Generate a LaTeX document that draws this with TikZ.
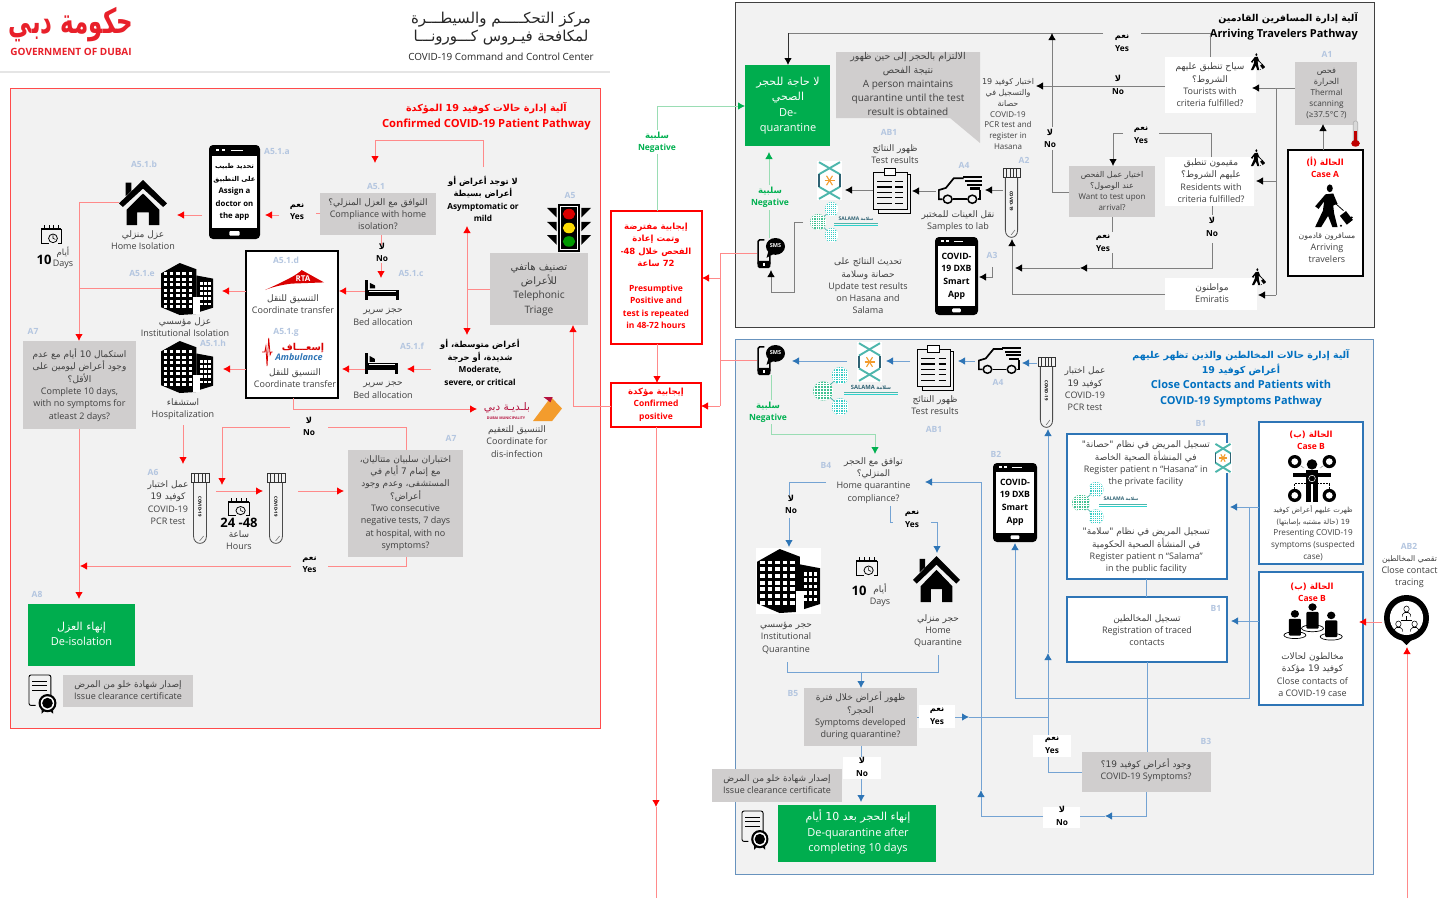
\documentclass[tikz,border=0pt]{standalone}
\usepackage{fontspec}
\usetikzlibrary{arrows.meta}
\setmainfont{Open Sans}
\TeXXeTstate=1
\newfontfamily\arabicfont[Script=Arabic,Scale=1.0]{DejaVu Sans}
\newfontfamily\arabicsmall[Script=Arabic,Scale=0.86]{DejaVu Sans}
\newcommand\arb[1]{{\arabicfont\beginR #1\endR}}
\newcommand\arbt[1]{{\arabicsmall\beginR #1\endR}}
\newcommand\ltr[1]{\beginL #1\endL{}}
\definecolor{panelbg}{HTML}{F2F2F2}
\definecolor{redborder}{HTML}{FF4B4B}
\definecolor{pinkline}{HTML}{FF8A8A}
\definecolor{pureRed}{HTML}{FF0000}
\definecolor{blueline}{HTML}{74A3D3}
\definecolor{bluehead}{HTML}{2E75B6}
\definecolor{blueborder}{HTML}{2E75B6}
\definecolor{greenline}{HTML}{9ADDB4}
\definecolor{greenhead}{HTML}{00B050}
\definecolor{greenbox}{HTML}{00AD4E}
\definecolor{grayline}{HTML}{7F7F7F}
\definecolor{grayfill}{HTML}{D0CECE}
\definecolor{labcol}{HTML}{B4C6E0}
\definecolor{txtgray}{HTML}{404040}
\definecolor{teal1}{HTML}{4DB6AC}
\definecolor{teal2}{HTML}{2F6273}
\definecolor{orng}{HTML}{F39C2D}
\definecolor{dubaired}{HTML}{E8202A}
\definecolor{dmred}{HTML}{B5123E}
\definecolor{titleblue}{HTML}{0070C0}
\newcounter{artn}
\newcommand\icon[6]{%
  \path (#3,#4) node[anchor=north west,inner sep=0pt,outer sep=0pt,minimum width={(#5-#3)*1pt},minimum height={(#6-#4)*1pt}] (#1) {};
  \pgfmathsetmacro\sxx{(#5-#3)/100}\pgfmathsetmacro\syy{(#6-#4)/100}
  \begin{scope}[shift={(#3,#4)},xscale=\sxx,yscale=\syy]#2\end{scope}}
\def\arthouse{\fill (0,52)--(50,0)--(100,52)--(92,60)--(50,19)--(8,60)--cycle;
  \fill (14,6)--(26,6)--(26,24)--(14,36)--cycle;
  \fill (16,66)--(50,30)--(84,66)--(84,100)--(62,100)--(62,72)--(38,72)--(38,100)--(16,100)--cycle;}
\def\artbldg{\fill (0,20)--(36,0)--(68,12)--(68,98)--(36,100)--(0,85)--cycle;
  \fill (68,24)--(100,30)--(100,86)--(68,96)--cycle;
  \foreach \i in {0,...,4}{\foreach \j in {0,...,6}{\fill[white] ({5+\i*12},{18+\j*10.5}) rectangle ++(7,6);}}
  \foreach \i in {0,1,2}{\foreach \j in {0,...,4}{\fill[white] ({75+\i*8},{36+\j*10}) rectangle ++(5,5.5);}}
  \fill[white] (62,65) rectangle (75,98);}
\def\artbed{\fill (0,0) rectangle (9,100);\fill (14,14)--(30,28)--(30,42)--(14,42)--cycle;
  \fill (9,48) rectangle (100,70);\fill[white] (12,54) rectangle (97,58);\fill (91,48) rectangle (100,100);\fill (9,72) rectangle (91,80);}
\def\artphone{\fill[rounded corners=4pt] (0,0) rectangle (100,100);\fill[white] (6,12) rectangle (94,88);
  \fill[white,rounded corners=1pt] (40,91.5) rectangle (60,96.5);\fill[white] (14,4) rectangle (20,6.5);\fill[white] (26,4) rectangle (32,6.5);\fill[white] (44,5) rectangle (66,6.5);}
\def\artphonesms{\draw[line width=1.6pt,rounded corners=1.5pt] (26,6)--(4,6)--(4,90)--(46,90)--(46,60);
  \fill[rounded corners=1.5pt] (2,76) rectangle (48,100);\fill[white] (22,83) rectangle (30,92);
  \fill (66,28) ellipse (34 and 28);\fill (42,40)--(34,66)--(62,52)--cycle;}
\def\arttube{\stepcounter{artn}\draw[line width=.7pt,black!80] (0,0) rectangle (100,14);
  \foreach \i in {20,40,60,80}{\draw[line width=.5pt,black!80] (\i,0)--(\i,14);}
  \draw[line width=.8pt,black!70] (14,14)--(14,90) .. controls (14,104) and (86,104) .. (86,90)--(86,14);
  \draw[line width=.5pt,black!60] (48,97)--(70,90);
  \node[font=\fontsize{4.3}{5}\selectfont\bfseries,rotate=-90,inner sep=0pt] (artn\theartn) at (50,48) {COVID-19};}
\def\artvan{\draw[line width=1.7pt] (10,86)--(2,86)--(2,52)--(18,44)--(36,8)--(58,8);
  \draw[line width=1.7pt] (34,86)--(66,86);\draw[line width=1.7pt] (90,86)--(96,86)--(96,50);
  \draw[line width=1.5pt] (22,86) ellipse (10 and 15);\draw[line width=1.5pt] (78,86) ellipse (10 and 15);
  \fill (56,0) rectangle (100,8);\fill (62,14) rectangle (100,22);\fill (66,28) rectangle (100,36);\fill (72,42) rectangle (96,50);}
\def\artclip{\draw[line width=.9pt] (92,14)--(100,14)--(100,100)--(14,100)--(14,92);
  \draw[line width=.9pt] (0,10) rectangle (92,92);\draw[line width=.9pt,fill=white] (30,0) rectangle (62,16);
  \foreach \yy in {30,42,54,66,78}{\draw[line width=1.2pt] (12,\yy)--(50,\yy);\draw[line width=1.2pt] (60,\yy)--(80,\yy);}}
\def\arthasana{\fill[white] (0,0) rectangle (100,100);
  \draw[teal1,line width=1.9pt] (8,3)--(92,34);\draw[teal1,line width=1.9pt] (92,3)--(8,34);
  \draw[teal1,line width=1.9pt] (8,97)--(92,66);\draw[teal1,line width=1.9pt] (92,97)--(8,66);
  \draw[teal2,line width=1.7pt] (8,34)--(8,66);\draw[teal2,line width=1.7pt] (92,34)--(92,66);
  \draw[orng,line width=1.1pt] (30,50)--(70,50);\draw[orng,line width=1.1pt] (38,38)--(62,62);\draw[orng,line width=1.1pt] (62,38)--(38,62);}
\newcommand\dotc[5]{\begin{scope}\clip (#1,#2) ellipse (#3 and #4);\fill[#5] (#1-#3,#2-#4) rectangle (#1+#3,#2+#4);
  \foreach \q in {-3,...,3}{\draw[white,line width=.25pt] (#1+\q*#3/3.5,#2-#4)--(#1+\q*#3/3.5,#2+#4);\draw[white,line width=.25pt] (#1-#3,#2+\q*#4/3.5)--(#1+#3,#2+\q*#4/3.5);}\end{scope}}
\def\artsalama{\draw[teal1,line width=.8pt] (32,18)--(12,50)--(32,83);
  \dotc{12}{50}{12}{20}{teal1!85!green}\dotc{32}{18}{10}{18}{teal1!70!cyan}\dotc{32}{83}{10}{18}{teal1!70!cyan}
  \fill[teal1] (36,52) rectangle (100,55);\fill[teal1!60!cyan] (36,57) rectangle (100,59);}
\def\artlight{\fill (25,0) rectangle (75,100);\fill[white] (30,4) rectangle (70,96);\fill (32,6) rectangle (68,94);
  \fill[red!85!black] (50,21) ellipse (14 and 11);\fill[yellow!80!orange] (50,50) ellipse (14 and 11);\fill[green!60!black] (50,78) ellipse (14 and 11);
  \foreach \yy in {8,37,65}{\fill (0,\yy)--(22,\yy)--(22,\yy+20)--cycle;\fill (100,\yy)--(78,\yy)--(78,\yy+20)--cycle;}}
\def\artwalker{\fill (46,10) ellipse (7 and 9);
  \fill (36,24)--(54,22)--(64,46)--(54,50)--(56,68)--(64,100)--(52,100)--(42,74)--(26,100)--(12,100)--(30,62)--(33,40)--(20,58)--(12,52)--cycle;
  \draw[line width=.8pt] (60,46)--(78,62);\fill[rotate around={38:(84,78)}] (75,66) rectangle (93,92);
  \fill (72,97) ellipse (2.5 and 2.5);\fill (97,78) ellipse (2.5 and 2.5);}
\def\artcalendar{\draw[line width=.9pt] (0,22)--(0,100)--(40,100);\draw[line width=.9pt] (100,22)--(100,100)--(85,100);
  \fill (0,15) rectangle (100,30);\foreach \i in {15,38,61,84}{\fill (\i,0) rectangle (\i+6,18);}
  \draw[line width=.8pt] (60,74) ellipse (22 and 24);\draw[line width=.6pt] (60,58)--(60,74)--(72,80);}
\def\artcert{\draw[line width=.9pt,rounded corners=2pt] (78,62)--(78,0)--(0,0)--(0,80)--(24,80);
  \draw[line width=.9pt] (12,18)--(66,18);\draw[line width=1.4pt] (12,28)--(66,28);\draw[line width=.9pt] (12,40)--(66,40);
  \fill (66,74) ellipse (32 and 24);\fill[white] (66,74) ellipse (24 and 18);\fill (66,74) ellipse (19 and 14);
  \fill (45,92)--(55,95)--(45,102)--cycle;\fill (86,92)--(76,95)--(86,102)--cycle;}
\def\artthermo{\draw[gray!60,line width=.6pt,fill=gray!30,rounded corners=2pt] (25,0) rectangle (75,80);
  \fill[red!75!black] (35,40) rectangle (65,85);\fill[red!75!black] (50,86) ellipse (48 and 13);}
\def\artcaseb{\draw[densely dotted,line width=.5pt] (14,15)--(34,28);\draw[densely dotted,line width=.5pt] (86,15)--(66,28);\draw[densely dotted,line width=.5pt] (14,85)--(14,60)--(40,60);\draw[densely dotted,line width=.5pt] (86,85)--(86,60)--(60,60);
  \fill (14,14) ellipse (14 and 14);\fill (86,14) ellipse (14 and 14);\fill (14,86) ellipse (14 and 14);\fill (86,86) ellipse (14 and 14);
  \fill[white] (14,14) ellipse (7 and 7);\fill[white] (86,14) ellipse (7 and 7);\fill[white] (14,86) ellipse (7 and 7);\fill[white] (86,86) ellipse (7 and 7);
  \fill (50,20) ellipse (11 and 11);\fill (10,38) rectangle (90,46);\fill (38,32) rectangle (62,62);\fill (38,62) rectangle (48,100);\fill (52,62) rectangle (62,100);
  \draw[white,line width=.5pt] (50,50) ellipse (7 and 7);}
\newcommand\oneperson[2]{\draw[line width=.7pt] (#1,#2+56) ellipse (20 and 9);\fill (#1,#2) ellipse (7.5 and 10);\fill[rounded corners=1pt] (#1-11,#2+13) rectangle (#1+11,#2+57);}
\def\artpeople{\oneperson{50}{8}\oneperson{18}{26}\oneperson{84}{30}}
\def\artpin{\fill (50,46) ellipse (50 and 46);\fill (36,88)--(64,88)--(50,100)--cycle;\fill[white] (50,46) ellipse (37 and 34);
  \foreach \a/\b in {50/28,32/58,68/58}{\draw[line width=.55pt] (\a,\b) ellipse (6 and 6);\draw[line width=.55pt] (\a-9,\b+15)--(\a-9,\b+11)--(\a-4,\b+7)--(\a+4,\b+7)--(\a+9,\b+11)--(\a+9,\b+15);}
  \draw[line width=.45pt] (50,42)--(50,50)--(38,50);\draw[line width=.45pt] (50,50)--(62,50);}
\tikzset{
  panelred/.style={draw=redborder,fill=panelbg,line width=1pt},
  panelblack/.style={draw=black!75,fill=panelbg,line width=1.2pt},
  panelblue/.style={draw=blueline!90!black,fill=panelbg,line width=1.1pt},
  txt/.style={align=center,inner sep=0pt,text=txtgray,font=\fontsize{9}{12.3}\selectfont},
  small/.style={txt,font=\fontsize{8}{10.8}\selectfont},
  yn/.style={align=center,inner sep=0pt,text=black,font=\fontsize{8.3}{12.5}\selectfont\bfseries},
  ynwhite/.style={yn,fill=white},
  lab/.style={inner sep=0pt,text=labcol,font=\fontsize{8.5}{10}\selectfont\bfseries},
  boxgray/.style={fill=grayfill,inner sep=0pt,outer sep=0pt},
  boxwhite/.style={fill=white,inner sep=0pt,outer sep=0pt},
  boxgreen/.style={fill=greenbox,inner sep=0pt,outer sep=0pt},
  blackframe/.style={fill=white,draw=black,line width=1.1pt,inner sep=0pt,outer sep=0pt},
  blueframe/.style={fill=white,draw=blueborder,line width=1.1pt,inner sep=0pt,outer sep=0pt},
  redframe/.style={fill=white,draw=red,line width=1.1pt,inner sep=0pt,outer sep=0pt},
  redline/.style={draw=pinkline,line width=.85pt},
  redarrow/.style={redline,-{Latex[length=7pt,width=7.5pt,color=pureRed]}},
  blueln/.style={draw=blueline,line width=.85pt},
  bluearrow/.style={blueln,-{Latex[length=7pt,width=7.5pt,color=bluehead]}},
  greenln/.style={draw=greenline,line width=.85pt},
  greenarrow/.style={greenln,-{Latex[length=7pt,width=7.5pt,color=greenhead]}},
  grayln/.style={draw=grayline,line width=.85pt},
  grayarrow/.style={grayln,-{Latex[length=7pt,width=7.5pt,color=black]}},
  whitetxt/.style={align=center,inner sep=0pt,text=white,font=\fontsize{11}{15.5}\selectfont},
  redbold/.style={align=center,inner sep=0pt,text=pureRed,font=\fontsize{8.5}{12.4}\selectfont\bfseries},
}
\newcommand\boxat[6]{\path (#3,#4) node[#2,anchor=north west,minimum width={(#5-#3)*1pt},minimum height={(#6-#4)*1pt}] (#1) {};}
\begin{document}
\begin{tikzpicture}[x=1pt,y=-1pt]
\useasboundingbox (0,0) rectangle (1444,898);
\fill[white] (0,0) rectangle (1444,898);
% header
\draw[black!10,line width=1.2pt] (0,72)--(610,72);
\node[transform shape,yscale=1.5,inner sep=0pt,text=dubaired,font=\fontsize{23}{30}\selectfont\bfseries] (logoar) at (71,25) {\arb{حكومة دبي}};
\node[inner sep=0pt,text=dubaired,font=\fontsize{10}{11}\selectfont\bfseries] (logoen) at (71,52) {GOVERNMENT OF DUBAI};
\node[inner sep=0pt,text=black!85,font=\fontsize{15}{16}\selectfont] (ccar1) at (501,20) {\arb{مركز التحكـــــم والسيطـــرة}};
\node[inner sep=0pt,text=black!85,font=\fontsize{15}{16}\selectfont] (ccar2) at (501,38) {\arb{لمكافحة فيـروس كـــورونـــا}};
\node[inner sep=0pt,text=black!85,font=\fontsize{9.9}{11}\selectfont] (ccen) at (501,57) {COVID-19 Command and Control Center};
% panels
\boxat{panelR}{panelred}{10}{88}{600}{728}
\boxat{panelK}{panelblack}{735}{2}{1374}{327}
\boxat{panelB}{panelblue}{735}{339}{1373}{874}
% ---------- RED PANEL ----------
\node[anchor=east,align=right,inner sep=0pt,text=pureRed,font=\fontsize{11.2}{16}\selectfont\bfseries] (tR) at (591,116) {\arbt{آلية إدارة حالات كوفيد \ltr{19} المؤكدة}\hspace*{24pt}\\Confirmed COVID-19 Patient Pathway};
\node[lab] (lA51a) at (277,152) {A5.1.a};
\icon{phA}{\artphone}{209}{145}{260}{239}
\node[align=center,inner sep=0pt,font=\fontsize{7.8}{12.6}\selectfont\bfseries] (phAt) at (234.5,192) {\arbt{تحديد طبيب}\\\arbt{على التطبيق}\\Assign a\\doctor on\\the app};
\node[lab] (lA51b) at (144,164) {A5.1.b};
\icon{houseA}{\arthouse}{119}{180}{167}{225}
\node[txt] (houseAt) at (143,240) {\arb{عزل منزلي}\\Home Isolation};
\icon{cal1}{\artcalendar}{41}{225}{61}{243}
\node[txt,font=\fontsize{8.5}{10}\selectfont] (d1a) at (63,252) {\arb{أيام}};
\node[inner sep=0pt,font=\fontsize{13}{14}\selectfont\bfseries] (d1b) at (44,260) {10};
\node[txt] (d1c) at (63,264) {Days};
\node[lab] (lA51e) at (142,274) {A5.1.e};
\icon{bld1}{\artbldg}{161}{263}{213}{315}
\node[txt] (bld1t) at (185,327) {\arb{عزل مؤسسي}\\Institutional Isolation};
\node[lab] (lA7a) at (33,331) {A7};
\boxat{A7a}{boxgray}{23}{341}{136}{429}
\node[txt] (A7at) at (79.5,385) {\arb{استكمال \ltr{10} أيام مع عدم}\\\arb{وجود أعراض ليومين على}\\\arb{الأقل؟}\\Complete 10 days,\\with no symptoms for\\atleast 2 days?};
\icon{bld2}{\artbldg}{161}{341}{213}{393}
\node[lab] (lA51h) at (213,343) {A5.1.h};
\node[txt] (bld2t) at (183,409) {\arb{استشفاء}\\Hospitalization};
\node[lab] (lA51) at (376,187) {A5.1};
\boxat{A51}{boxgray}{320}{193}{436}{235}
\node[txt] (A51t) at (378,214) {\arb{التوافق مع العزل المنزلي؟}\\Compliance with home\\isolation?};
\node[yn] (ynA1) at (297,211.5) {\arb{نعم}\\Yes};
\node[yn] (ynA2) at (382,252.5) {\arb{لا}\\No};
\node[yn] (asym) at (483,199) {\arb{لا توجد أعراض أو}\\\arb{أعراض بسيطة}\\Asymptomatic or\\mild};
\node[lab] (lA5) at (570,195) {A5};
\icon{tl}{\artlight}{547}{204}{591}{252}
\boxat{triage}{boxgray}{490}{253}{588}{325}
\node[txt,font=\fontsize{10.2}{14.4}\selectfont] (triaget) at (539,289) {\arb{تصنيف هاتفي}\\\arb{للأعراض}\\Telephonic\\Triage};
\icon{bed1}{\artbed}{365}{280}{399}{300}
\node[lab] (lA51c) at (411,274) {A5.1.c};
\node[txt] (bed1t) at (383,317) {\arb{حجز سرير}\\Bed allocation};
\boxat{wbox}{blackframe}{246}{251}{338}{398}
\node[lab] (lA51d) at (286,260) {A5.1.d};
\icon{rta}{\fill[red!85!black] (0,100) .. controls (30,60) and (55,25) .. (62,0)--(100,62)--(45,68) .. controls (25,75) and (10,88) .. (0,100)--cycle;}{265}{270}{324}{290}
\node[inner sep=0pt,text=white,font=\fontsize{8}{9}\selectfont\bfseries] (rtat) at (303,279) {RTA};
\node[txt] (rtal) at (293,304) {\arb{التنسيق للنقل}\\Coordinate transfer};
\node[lab] (lA51g) at (286,332) {A5.1.g};
\icon{amb}{\draw[red!85!black,line width=.8pt] (0,50)--(10,50)--(14,30)--(18,100)--(24,0)--(29,60)--(33,50)--(38,50);}{262}{338}{290}{366}
\node[inner sep=0pt,text=red!85!black,font=\fontsize{9.5}{11}\selectfont\bfseries] (ambar) at (303,348) {\arb{إسعـــاف}};
\node[inner sep=0pt,text=bluehead,font=\fontsize{9}{10}\selectfont\bfseries\itshape] (amben) at (299,357) {Ambulance};
\node[txt] (ambl) at (295,378) {\arb{التنسيق للنقل}\\Coordinate transfer};
\icon{bed2}{\artbed}{365}{353}{398}{374}
\node[lab] (lA51f) at (412,346) {A5.1.f};
\node[txt] (bed2t) at (383,390) {\arb{حجز سرير}\\Bed allocation};
\node[yn] (mod) at (480,363) {\arb{أعراض متوسطة، أو}\\\arb{شديدة، أو حرجة}\\Moderate,\\severe, or critical};
\node[inner sep=0pt,text=dmred,font=\fontsize{10.5}{11}\selectfont] (dm1) at (507,408) {\arb{بلـديـة دبي}};
\node[inner sep=0pt,text=dmred,font=\fontsize{3.6}{4}\selectfont\bfseries] (dm2) at (506,418) {DUBAI MUNICIPALITY};
\icon{dmlogo}{\fill[orng] (0,100)--(62,0)--(100,48)--(66,100)--cycle;\fill[dmred] (36,0)--(68,0)--(60,22)--cycle;}{533}{397}{562}{421}
\node[txt] (dmt) at (517,441.5) {\arb{التنسيق للتعقيم}\\Coordinate for\\dis-infection};
\node[yn] (ynA3) at (309,426.5) {\arb{لا}\\No};
\node[lab] (lA6) at (153,472) {A6};
\node[txt] (A6t) at (168,502.5) {\arb{عمل اختبار}\\\arb{كوفيد \ltr{19}}\\COVID-19\\PCR test};
\icon{tube1}{\arttube}{191}{473}{209}{543}
\icon{tube2}{\arttube}{267}{473}{285}{543}
\icon{cal2}{\artcalendar}{228}{498}{249}{515}
\node[inner sep=0pt,font=\fontsize{13}{14}\selectfont\bfseries] (hrs1) at (239,523) {24 -48};
\node[txt] (hrs2) at (239,540) {\arb{ساعة}\\Hours};
\node[lab] (lA7b) at (451,438) {A7};
\boxat{A7b}{boxgray}{348}{450}{463}{557}
\node[txt] (A7bt) at (405.5,503) {\arb{اختباران سلبيان متتاليان،}\\\arb{مع إتمام \ltr{7} أيام في}\\\arb{المستشفى، وعدم وجود}\\\arb{أعراض؟}\\Two consecutive\\negative tests,  7 days\\at hospital, with no\\symptoms?};
\node[yn] (ynA4) at (309.5,564.5) {\arb{نعم}\\Yes};
\node[lab] (lA8) at (37,594) {A8};
\boxat{A8}{boxgreen}{28}{604}{135}{666}
\node[whitetxt] (A8t) at (81.5,634) {\arb{إنهاء العزل}\\De-isolation};
\icon{cert1}{\artcert}{29}{675}{57}{713}
\boxat{cert1b}{boxgray}{63}{675}{193}{707}
\node[txt] (cert1t) at (128,690) {\arb{إصدار شهادة خلو من المرض}\\Issue clearance certificate};
% red panel connectors
\coordinate (pa1) at (483,167);\coordinate (pa2) at (483,140);\coordinate (pa3) at (375,140);\coordinate (pa4) at (375,163);
\draw[redarrow] (pa1)--(pa2)--(pa3)--(pa4);
\coordinate (pb1) at (202,215);\coordinate (pb2) at (177,215);\draw[redarrow] (pb1)--(pb2);
\coordinate (pc1) at (279,215);\coordinate (pc2) at (265,215);\draw[redarrow] (pc1)--(pc2);
\coordinate (pd1) at (316,213);\draw[redline] (A51.west|-pd1)--(pd1);
\coordinate (pe1) at (381,245);\draw[redline] (A51.south-|pe1)--(pe1);
\coordinate (pe2) at (381,263);\coordinate (pe3) at (381,278);\draw[redarrow] (pe2)--(pe3);
\coordinate (ph1) at (79,202);\draw[redline] (houseA.west|-ph1)--(ph1);
\coordinate (ph2) at (79,288);\draw[redline] (bld1.west|-ph2)--(ph2);
\draw[redarrow] (ph1)--(A7a.north-|ph1);
\coordinate (pi1) at (79,599);\draw[redarrow] (A7a.south-|pi1)--(pi1);
\coordinate (pj1) at (339,291);\draw[redarrow] (bed1.west|-pj1)--(pj1);
\coordinate (pj2) at (222,291);\draw[redarrow] (wbox.west|-pj2)--(pj2);
\coordinate (pj3) at (342,369);\draw[redarrow] (bed2.west|-pj3)--(pj3);
\coordinate (pj4) at (223,369);\draw[redarrow] (wbox.west|-pj4)--(pj4);
\coordinate (pj5) at (431,369);\coordinate (pj6) at (407,369);\draw[redarrow] (pj5)--(pj6);
\coordinate (pk1) at (467,289);\coordinate (pk2) at (467,226);\coordinate (pk3) at (467,335);
\draw[redarrow] (triage.west|-pk1)--(pk1)--(pk2);\draw[redarrow] (pk1)--(pk3);
\coordinate (pl1) at (293,398);\coordinate (pl2) at (293,409);\coordinate (pl3) at (477,409);\draw[redarrow] (pl1)--(pl2)--(pl3);
\coordinate (pm1) at (183,425);\coordinate (pm2) at (183,464);\draw[redarrow] (pm1)--(pm2);
\coordinate (pn1) at (406,427);\coordinate (pn2) at (328,427);\draw[redline] (A7b.north-|pn1)--(pn1)--(pn2);
\coordinate (pn3) at (290,427);\coordinate (pn4) at (222,427);\coordinate (pn5) at (222,485);\draw[redarrow] (pn3)--(pn4)--(pn5);
\coordinate (po1) at (216,491);\coordinate (po2) at (263,491);\draw[redarrow] (po1)--(po2);
\coordinate (po3) at (298,491);\coordinate (po4) at (344,491);\draw[redarrow] (po3)--(po4);
\coordinate (pq1) at (406,566);\coordinate (pq2) at (328,566);\draw[redline] (A7b.south-|pq1)--(pq1)--(pq2);
\coordinate (pq3) at (291,566);\coordinate (pq4) at (80,566);\draw[redarrow] (pq3)--(pq4);
% ---------- CENTRE ----------
\boxat{pres}{redframe}{611}{211}{702}{344}
\node[redbold] (prest) at (656,276) {\arb{إيجابية مفترضة}\\\arb{وتمت إعادة}\\\arb{الفحص خلال \ltr{{\rmfamily -}48}}\\\arb{\ltr{72} ساعة}\\[12.4pt]Presumptive\\Positive and\\test is repeated\\in 48-72 hours};
\boxat{conf}{redframe}{611}{383}{701}{427}
\node[redbold] (conft) at (656,404.5) {\arb{إيجابية مؤكدة}\\Confirmed\\positive};
\node[inner sep=0pt,align=center,text=greenhead,font=\fontsize{8.5}{12.3}\selectfont\bfseries] (negC) at (657,142) {\arb{سلبية}\\Negative};
% ---------- BLACK PANEL ----------
\node[anchor=east,align=right,inner sep=0pt,text=black,font=\fontsize{11}{16}\selectfont\bfseries] (tK) at (1358,26) {\arbt{آلية إدارة المسافرين القادمين}\\Arriving Travelers Pathway};
\boxat{deq}{boxgreen}{745}{65}{830}{146}
\node[whitetxt] (deqt) at (788,105.5) {\arb{لا حاجة للحجر}\\\arb{الصحي}\\De-\\quarantine};
\path[fill=grayfill] (836,52)--(980,52)--(980,118)--(980,143)--(950,118)--(836,118)--cycle;
\node[txt,font=\fontsize{10}{14}\selectfont] (speech) at (908,84) {{\fontsize{9.4}{14}\selectfont\arb{الالتزام بالحجر إلى حين ظهور}}\\{\fontsize{9.4}{14}\selectfont\arb{نتيجة الفحص}}\\A person maintains\\quarantine until the test\\result is obtained};
\node[lab] (lAB1) at (889,132) {AB1};
\node[txt] (trt) at (895,154) {\arb{ظهور النتائج}\\Test results};
\icon{clipK}{\artclip}{873}{168}{910}{213}
\icon{hasK}{\arthasana}{817}{161}{842}{200}
\icon{salK}{\artsalama}{810}{202}{878}{242}
\node[inner sep=0pt,font=\fontsize{5}{6}\selectfont\bfseries,text=teal2] (salKt) at (856,219) {SALAMA \arbt{سلامة}};
\icon{vanK}{\artvan}{938}{176}{982}{203}
\node[lab] (lA4) at (964,165) {A4};
\node[txt] (vant) at (958,221) {\arb{نقل العينات للمختبر}\\Samples to lab};
\icon{tubeK}{\arttube}{1003}{168}{1020}{237}
\node[lab] (lA2) at (1024,160) {A2};
\node[small] (a2t) at (1008,114) {\arb{اختبار كوفيد \ltr{19}}\\\arb{والتسجيل في}\\\arb{حصانة}\\COVID-19\\PCR test and\\register in\\Hasana};
\icon{smsK}{\artphonesms}{757}{238}{785}{268}
\node[inner sep=0pt,text=white,font=\fontsize{5.5}{6}\selectfont\bfseries] (smsKt) at (775.5,246) {SMS};
\node[inner sep=0pt,align=center,text=greenhead,font=\fontsize{8.5}{12.3}\selectfont\bfseries] (negK) at (770,197.5) {\arb{سلبية}\\Negative};
\icon{appK}{\artphone}{935}{237}{978}{315}
\node[align=center,inner sep=0pt,font=\fontsize{8.7}{12.6}\selectfont\bfseries] (appKt) at (956.5,276) {COVID-\\19 DXB\\Smart\\App};
\node[lab] (lA3) at (992,255) {A3};
\node[txt] (updt) at (868,286) {\arb{تحديث النتائج على}\\\arb{حصانة وسلامة}\\Update test results\\on Hasana and\\Salama};
\boxat{tour}{boxwhite}{1165}{57}{1256}{113}
\node[txt] (tourt) at (1210,85) {\arb{سياح تنطبق عليهم}\\\arb{الشروط؟}\\Tourists with\\criteria fulfilled?};
\node[yn] (ynK1) at (1122,43) {\arb{نعم}\\Yes};
\node[yn] (ynK2) at (1118,85) {\arb{لا}\\No};
\node[yn] (ynK3) at (1050,138.5) {\arb{لا}\\No};
\node[yn] (ynK4) at (1141,135) {\arb{نعم}\\Yes};
\boxat{want}{boxgray}{1069}{166}{1155}{217}
\node[small] (wantt) at (1112,191) {\arb{اختيار عمل الفحص}\\\arb{عند الوصول؟}\\Want to test upon\\arrival?};
\boxat{resi}{boxwhite}{1165}{157}{1254}{206}
\node[txt] (resit) at (1211,180.5) {\arb{مقيمون تنطبق}\\\arb{عليهم الشروط؟}\\Residents with\\criteria fulfilled?};
\node[yn] (ynK5) at (1103,243) {\arb{نعم}\\Yes};
\node[yn] (ynK6) at (1212,227) {\arb{لا}\\No};
\boxat{emir}{boxwhite}{1165}{278}{1257}{310}
\node[txt] (emirt) at (1212,293) {\arb{مواطنون}\\Emiratis};
\icon{wlk1}{\artwalker}{1249}{53}{1265}{70}
\icon{wlk2}{\artwalker}{1249}{149}{1265}{166}
\icon{wlk3}{\artwalker}{1250}{268}{1266}{285}
\node[lab] (lA1) at (1327,54) {A1};
\boxat{therm}{boxgray}{1295}{62}{1357}{125}
\node[small,font=\fontsize{8.2}{11}\selectfont] (thermt) at (1326.5,94) {\arb{فحص}\\\arb{الحرارة}\\Thermal\\scanning\\(≥37.5°C ?)};
\icon{thermo}{\artthermo}{1351}{121}{1360}{147}
\boxat{caseA}{blackframe}{1288}{150}{1363}{276}
\node[redbold] (caseAt) at (1325,167.5) {\arb{الحالة (أ)}\\Case A};
\icon{travA}{\artwalker}{1310}{184}{1353}{227}
\node[txt] (caseAl) at (1327,247.5) {\arbt{مسافرون قادمون}\\Arriving\\travelers};
% black connectors
\coordinate (ka1) at (788,33);\coordinate (ka2) at (1103,33);\draw[grayln] (ka2)--(ka1);
\draw[-{Latex[length=7pt,width=7.5pt,color=black]},line width=.85pt,black!80] (ka1)--(deq.north-|ka1);
\coordinate (ka3) at (1141,33);\coordinate (ka4) at (1210,33);\draw[grayln] (tour.north-|ka4)--(ka4)--(ka3);
\coordinate (kb1) at (1036,86);\draw[grayarrow] (tour.west|-kb1)--(kb1);
\coordinate (kc1) at (1052,192);\coordinate (kc2) at (1052,150);\draw[grayln] (want.west|-kc1)--(kc1)--(kc2);
\coordinate (kc3) at (1052,127);\coordinate (kc4) at (1052,33);\draw[grayarrow] (kc3)--(kc4);
\coordinate (kd1) at (1211,133);\coordinate (kd2) at (1159,133);\draw[grayln] (resi.north-|kd1)--(kd1)--(kd2);
\coordinate (kd3) at (1123,133);\coordinate (kd4) at (1113,133);\draw[grayarrow] (kd3)--(kd4)--(want.north-|kd4);
\coordinate (ke1) at (1112,232);\draw[grayln] (want.south-|ke1)--(ke1);
\coordinate (ke2) at (1112,253);\coordinate (ke3) at (1112,268);\draw[grayln] (ke2)--(ke3);
\coordinate (kf1) at (1212,215);\draw[grayln] (resi.south-|kf1)--(kf1);
\coordinate (kf2) at (1212,243);\coordinate (kf3) at (1212,268);\coordinate (kf4) at (1080,268);\coordinate (kf5) at (1015,268);
\draw[grayln] (kf2)--(kf3)--(ke3);\draw[grayarrow] (ke3)--(kf4);\draw[grayarrow] (kf4)--(kf5);
\coordinate (kg1) at (1012,294);\coordinate (kg2) at (1012,239);\draw[grayarrow] (emir.west|-kg1)--(kg1)--(kg2);
\coordinate (kh1) at (1252,88);\draw[grayarrow] (therm.west|-kh1)--(kh1);
\coordinate (kh2) at (1276,88);\coordinate (kh3) at (1276,295);\coordinate (kh4) at (1276,181);\coordinate (kh5) at (1256,181);\coordinate (kh6) at (1258,295);
\draw[grayln] (kh2)--(kh3);\draw[grayarrow] (kh4)--(kh5);\draw[grayarrow] (kh3)--(kh6);
\coordinate (ki1) at (1323,124);\draw[grayarrow] (caseA.north-|ki1)--(ki1);
\coordinate (kj1) at (845,190);\draw[grayarrow] (clipK.west|-kj1)--(kj1);
\coordinate (kj2) at (936,191);\coordinate (kj3) at (912,191);\draw[grayarrow] (kj2)--(kj3);
\coordinate (kj4) at (1003,190);\coordinate (kj5) at (985,190);\draw[grayarrow] (kj4)--(kj5);
\coordinate (kk1) at (803,222);\coordinate (kk2) at (794,222);\coordinate (kk3) at (794,292);\coordinate (kk4) at (771,292);\coordinate (kk5) at (771,270);
\draw[grayarrow] (kk1)--(kk2)--(kk3)--(kk4)--(kk5);
\coordinate (kl1) at (992,267);\coordinate (kl2) at (992,277);\coordinate (kl3) at (979,277);\draw[grayarrow] (kl1)--(kl2)--(kl3);
% ---------- BLUE PANEL ----------
\node[align=center,inner sep=0pt,text=titleblue,font=\fontsize{11}{15.4}\selectfont\bfseries] (tB) at (1241,378) {\arbt{آلية إدارة حالات المخالطين والذين تظهر عليهم}\\\arbt{أعراض كوفيد \ltr{19}}\\Close Contacts and Patients with\\COVID-19 Symptoms Pathway};
\icon{smsB}{\artphonesms}{757}{345}{785}{375}
\node[inner sep=0pt,text=white,font=\fontsize{5.5}{6}\selectfont\bfseries] (smsBt) at (775.5,353) {SMS};
\icon{hasB}{\arthasana}{857}{342}{882}{382}
\icon{salB}{\artsalama}{813}{367}{898}{415}
\node[inner sep=0pt,font=\fontsize{5.8}{7}\selectfont\bfseries,text=teal2] (salBt) at (871,387) {SALAMA \arbt{سلامة}};
\icon{clipB}{\artclip}{917}{345}{953}{390}
\icon{vanB}{\artvan}{978}{347}{1021}{373}
\node[lab] (lA4b) at (998,382) {A4};
\node[txt] (trtB) at (935,405) {\arb{ظهور النتائج}\\Test results};
\node[lab] (lAB1b) at (934,429) {AB1};
\icon{tubeB}{\arttube}{1038}{357}{1055}{427}
\node[txt] (pcrB) at (1085,389) {\arb{عمل اختبار}\\\arb{كوفيد \ltr{19}}\\COVID-19\\PCR test};
\node[inner sep=0pt,align=center,text=greenhead,font=\fontsize{8.5}{12.3}\selectfont\bfseries] (negB) at (768,412) {\arb{سلبية}\\Negative};
\node[lab] (lB1a) at (1201,423) {B1};
\boxat{reg}{blueframe}{1067}{434}{1227}{579}
\icon{hasR}{\arthasana}{1214}{443}{1232}{473}
\node[anchor=east,align=right,txt,text=txtgray] (regt1) at (1210,464) {\arb{تسجيل المريض في نظام "حصانة"}\\\arb{في المنشأة الصحية الخاصة}\\Register patient n “Hasana” in\\the private facility};
\icon{salR}{\artsalama}{1072}{482}{1147}{524}
\node[inner sep=0pt,font=\fontsize{5}{6}\selectfont\bfseries,text=teal2] (salRt) at (1121,499) {SALAMA \arbt{سلامة}};
\node[anchor=east,align=right,txt,text=txtgray] (regt2) at (1210,551) {\arb{تسجيل المريض في نظام "سلامة"}\\\arb{في المنشأة الصحية الحكومية}\\Register patient n “Salama”\\in the public facility};
\boxat{regtr}{blueframe}{1067}{597}{1227}{662}
\node[lab] (lB1b) at (1216,608) {B1};
\node[txt] (regtrt) at (1147,630) {\arb{تسجيل المخالطين}\\Registration of traced\\contacts};
\boxat{caseB1}{blueframe}{1259}{422}{1363}{564}
\node[redbold] (caseB1t) at (1311,440.5) {\arb{الحالة (ب)}\\Case B};
\icon{iconB1}{\artcaseb}{1288}{455}{1336}{502}
\node[small,font=\fontsize{8.2}{11.6}\selectfont] (caseB1l) at (1313,533) {\arbt{ظهرت عليهم أعراض كوفيد}\\\arbt{\ltr{19} (حالة مشتبه بإصابتها)}\\Presenting COVID-19\\symptoms (suspected\\case)};
\boxat{caseB2}{blueframe}{1259}{572}{1363}{705}
\node[redbold] (caseB2t) at (1312,592.5) {\arb{الحالة (ب)}\\Case B};
\icon{iconB2}{\artpeople}{1285}{604}{1340}{642}
\node[txt] (caseB2l) at (1312.5,674.5) {\arb{مخالطون لحالات}\\\arb{كوفيد \ltr{19} مؤكدة}\\Close contacts of\\a COVID-19 case};
\node[lab] (lAB2) at (1409,546) {AB2};
\node[txt] (ab2t) at (1409.5,571.5) {\arbt{تقصي المخالطين}\\Close contact\\tracing};
\icon{pin}{\artpin}{1384}{595}{1429}{645}
\node[txt] (hq) at (873.5,480.5) {\arb{توافق مع الحجر}\\\arb{المنزلي؟}\\Home quarantine\\compliance?};
\node[lab] (lB4) at (826,465) {B4};
\node[yn] (ynB1) at (791,504.5) {\arb{لا}\\No};
\node[yn] (ynB2) at (912,519) {\arb{نعم}\\Yes};
\fill[white] (756,548) rectangle (821,614);
\icon{bldB}{\artbldg}{757}{549}{820}{613}
\node[txt] (bldBt) at (786,638) {\arb{حجر مؤسسي}\\Institutional\\Quarantine};
\icon{cal3}{\artcalendar}{856}{557}{877}{575}
\node[inner sep=0pt,font=\fontsize{13}{14}\selectfont\bfseries] (d3a) at (859,591) {10};
\node[txt] (d3b) at (880,595) {\arb{أيام}\\Days};
\icon{houseB}{\arthouse}{913}{556}{960}{602}
\node[txt] (houseBt) at (938,631) {\arb{حجر منزلي}\\Home\\Quarantine};
\node[lab] (lB2) at (996,454) {B2};
\icon{appB}{\artphone}{993}{463}{1037}{542}
\node[align=center,inner sep=0pt,font=\fontsize{8.7}{12.6}\selectfont\bfseries] (appBt) at (1015,502) {COVID-\\19 DXB\\Smart\\App};
\node[lab] (lB5) at (793,693) {B5};
\boxat{B5}{boxgray}{804}{688}{917}{746}
\node[txt] (B5t) at (860.5,716) {\arb{ظهور أعراض خلال فترة}\\\arb{الحجر؟}\\Symptoms developed\\during quarantine?};
\boxat{ynB3box}{boxwhite}{919}{705}{955}{728}
\node[yn] (ynB3) at (937,716) {\arb{نعم}\\Yes};
\boxat{ynB4box}{boxwhite}{843}{757}{881}{779}
\node[yn] (ynB4) at (862,767) {\arb{لا}\\No};
\boxat{cert2b}{boxgray}{712}{769}{842}{802}
\node[txt] (cert2t) at (777,784) {\arb{إصدار شهادة خلو من المرض}\\Issue clearance certificate};
\icon{cert2}{\artcert}{742}{811}{769}{849}
\boxat{deq2}{boxgreen}{778}{805}{936}{862}
\node[whitetxt] (deq2t) at (858,832) {\arb{إنهاء الحجر بعد \ltr{10} أيام}\\De-quarantine after\\completing 10 days};
\boxat{ynB5box}{boxwhite}{1033}{735}{1071}{757}
\node[yn] (ynB5) at (1052,745) {\arb{نعم}\\Yes};
\boxat{B3}{boxgray}{1082}{752}{1211}{792}
\node[lab] (lB3) at (1206,741) {B3};
\node[txt] (B3t) at (1146,770) {\arb{وجود أعراض كوفيد \ltr{19}؟}\\COVID-19 Symptoms?};
\boxat{ynB6box}{boxwhite}{1043}{807}{1080}{828}
\node[yn] (ynB6) at (1062,816) {\arb{لا}\\No};
% blue connectors
\coordinate (ba1) at (792,361);\coordinate (ba2) at (847,361);\draw[bluearrow] (ba2)--(ba1);
\coordinate (ba3) at (910,361);\coordinate (ba4) at (886,361);\draw[bluearrow] (ba3)--(ba4);
\coordinate (ba5) at (975,361);\coordinate (ba6) at (958,361);\draw[bluearrow] (ba5)--(ba6);
\coordinate (ba7) at (1037,363);\coordinate (ba8) at (1022,363);\draw[bluearrow] (ba7)--(ba8);
\coordinate (bb1) at (826,482);\coordinate (bb2) at (789,482);\coordinate (bb3) at (789,495);\draw[blueln] (bb1)--(bb2)--(bb3);
\coordinate (bb4) at (789,518);\coordinate (bb5) at (789,547);\draw[bluearrow] (bb4)--(bb5);
\coordinate (bc1) at (890,506);\coordinate (bc2) at (890,522);\coordinate (bc3) at (893,522);\draw[blueln] (bc1)--(bc2)--(bc3);
\coordinate (bc4) at (931,522);\coordinate (bc5) at (937,522);\coordinate (bc6) at (937,553);\draw[bluearrow] (bc4)--(bc5)--(bc6);
\coordinate (bd1) at (787,662);\coordinate (bd2) at (787,672);\coordinate (bd3) at (938,672);\coordinate (bd4) at (938,655);\draw[blueln] (bd1)--(bd2)--(bd3)--(bd4);
\coordinate (bd5) at (861,672);\draw[bluearrow] (bd5)--(B5.north-|bd5);
\coordinate (be1) at (861,757);\draw[blueln] (B5.south-|be1)--(be1);
\coordinate (be2) at (861,802);\draw[bluearrow] (ynB4box.south-|be2)--(be2);
\coordinate (bf1) at (917,717);\draw[blueln] (bf1)--(ynB3box.west|-bf1);
\coordinate (bf2) at (969,717);\coordinate (bf3) at (1048,717);\draw[bluearrow] (ynB3box.east|-bf2)--(bf2);\draw[blueln] (bf2)--(bf3);
\coordinate (bg1) at (1048,772);\coordinate (bg2) at (1048,757);\draw[blueln] (B3.west|-bg1)--(bg1)--(bg2);
\coordinate (bg3) at (1048,735);\coordinate (bg4) at (1048,653);\draw[bluearrow] (bg3)--(bg4);
\coordinate (bg5) at (1048,429);\draw[bluearrow] (bg4)--(bg5);
\coordinate (bh1) at (1146,816);\coordinate (bh2) at (1105,816);\draw[bluearrow] (B3.south-|bh1)--(bh1)--(bh2);\draw[blueln] (bh2)--(ynB6box.east|-bh2);
\coordinate (bh3) at (981,816);\coordinate (bh4) at (981,790);\draw[bluearrow] (ynB6box.west|-bh3)--(bh3)--(bh4);
\coordinate (bh5) at (981,482);\coordinate (bh6) at (925,482);\draw[bluearrow] (bh4)--(bh5)--(bh6);
\coordinate (bi1) at (1249,507);\coordinate (bi2) at (1230,507);\draw[bluearrow] (caseB1.west|-bi1)--(bi2);
\coordinate (bi3) at (1249,698);\coordinate (bi4) at (1015,698);\coordinate (bi5) at (1015,543);\draw[bluearrow] (bi1)--(bi3)--(bi4)--(bi5);
\coordinate (bj1) at (1231,621);\draw[bluearrow] (caseB2.west|-bj1)--(bj1);
\coordinate (bj2) at (1146,579);\draw[blueln] (bj2)--(regtr.north-|bj2);
\coordinate (bj3) at (1147,662);\draw[blueln] (bj3)--(B3.north-|bj3);
% green connectors
\coordinate (ga1) at (657,154);\coordinate (ga2) at (657,106);\coordinate (ga3) at (657,130);
\draw[greenln] (pres.north-|ga1)--(ga1);\draw[greenarrow] (ga3)--(ga2)--(deq.west|-ga2);
\coordinate (gb1) at (769,210);\draw[greenln] (smsK.north-|gb1)--(gb1);
\coordinate (gb2) at (769,185);\coordinate (gb3) at (769,152);\draw[greenarrow] (gb2)--(gb3);
\coordinate (gc1) at (771,400);\draw[greenln] (smsB.south-|gc1)--(gc1);
\coordinate (gc2) at (771,424);\coordinate (gc3) at (771,434);\coordinate (gc4) at (875,434);\coordinate (gc5) at (875,454);\draw[greenarrow] (gc2)--(gc3)--(gc4)--(gc5);
% red centre connectors
\coordinate (ca1) at (657,383);\draw[redarrow] (pres.south-|ca1)--(ca1);
\coordinate (ca2) at (656,807);\coordinate (ca3) at (656,898);\draw[redarrow] (conf.south-|ca2)--(ca2);\draw[redline] (ca2)--(ca3);
\coordinate (cb1) at (573,406);\coordinate (cb2) at (573,325);\draw[redarrow] (conf.west|-cb1)--(cb1)--(cb2);
\coordinate (cc1) at (720,253);\coordinate (cc2) at (720,406);\coordinate (cc3) at (720,278);\coordinate (cc4) at (720,360);
\draw[redline] (smsK.west|-cc1)--(cc1)--(cc2);\draw[redline] (smsB.west|-cc4)--(cc4);
\draw[redarrow] (cc3)--(pres.east|-cc3);\draw[redarrow] (cc2)--(conf.east|-cc2);
\coordinate (cd1) at (1382,622);\coordinate (cd2) at (1359,622);\draw[redarrow] (cd1)--(cd2);
\coordinate (cd3) at (1407,898);\coordinate (cd4) at (1407,647);\draw[redarrow] (cd3)--(cd4);
\end{tikzpicture}
\end{document}
